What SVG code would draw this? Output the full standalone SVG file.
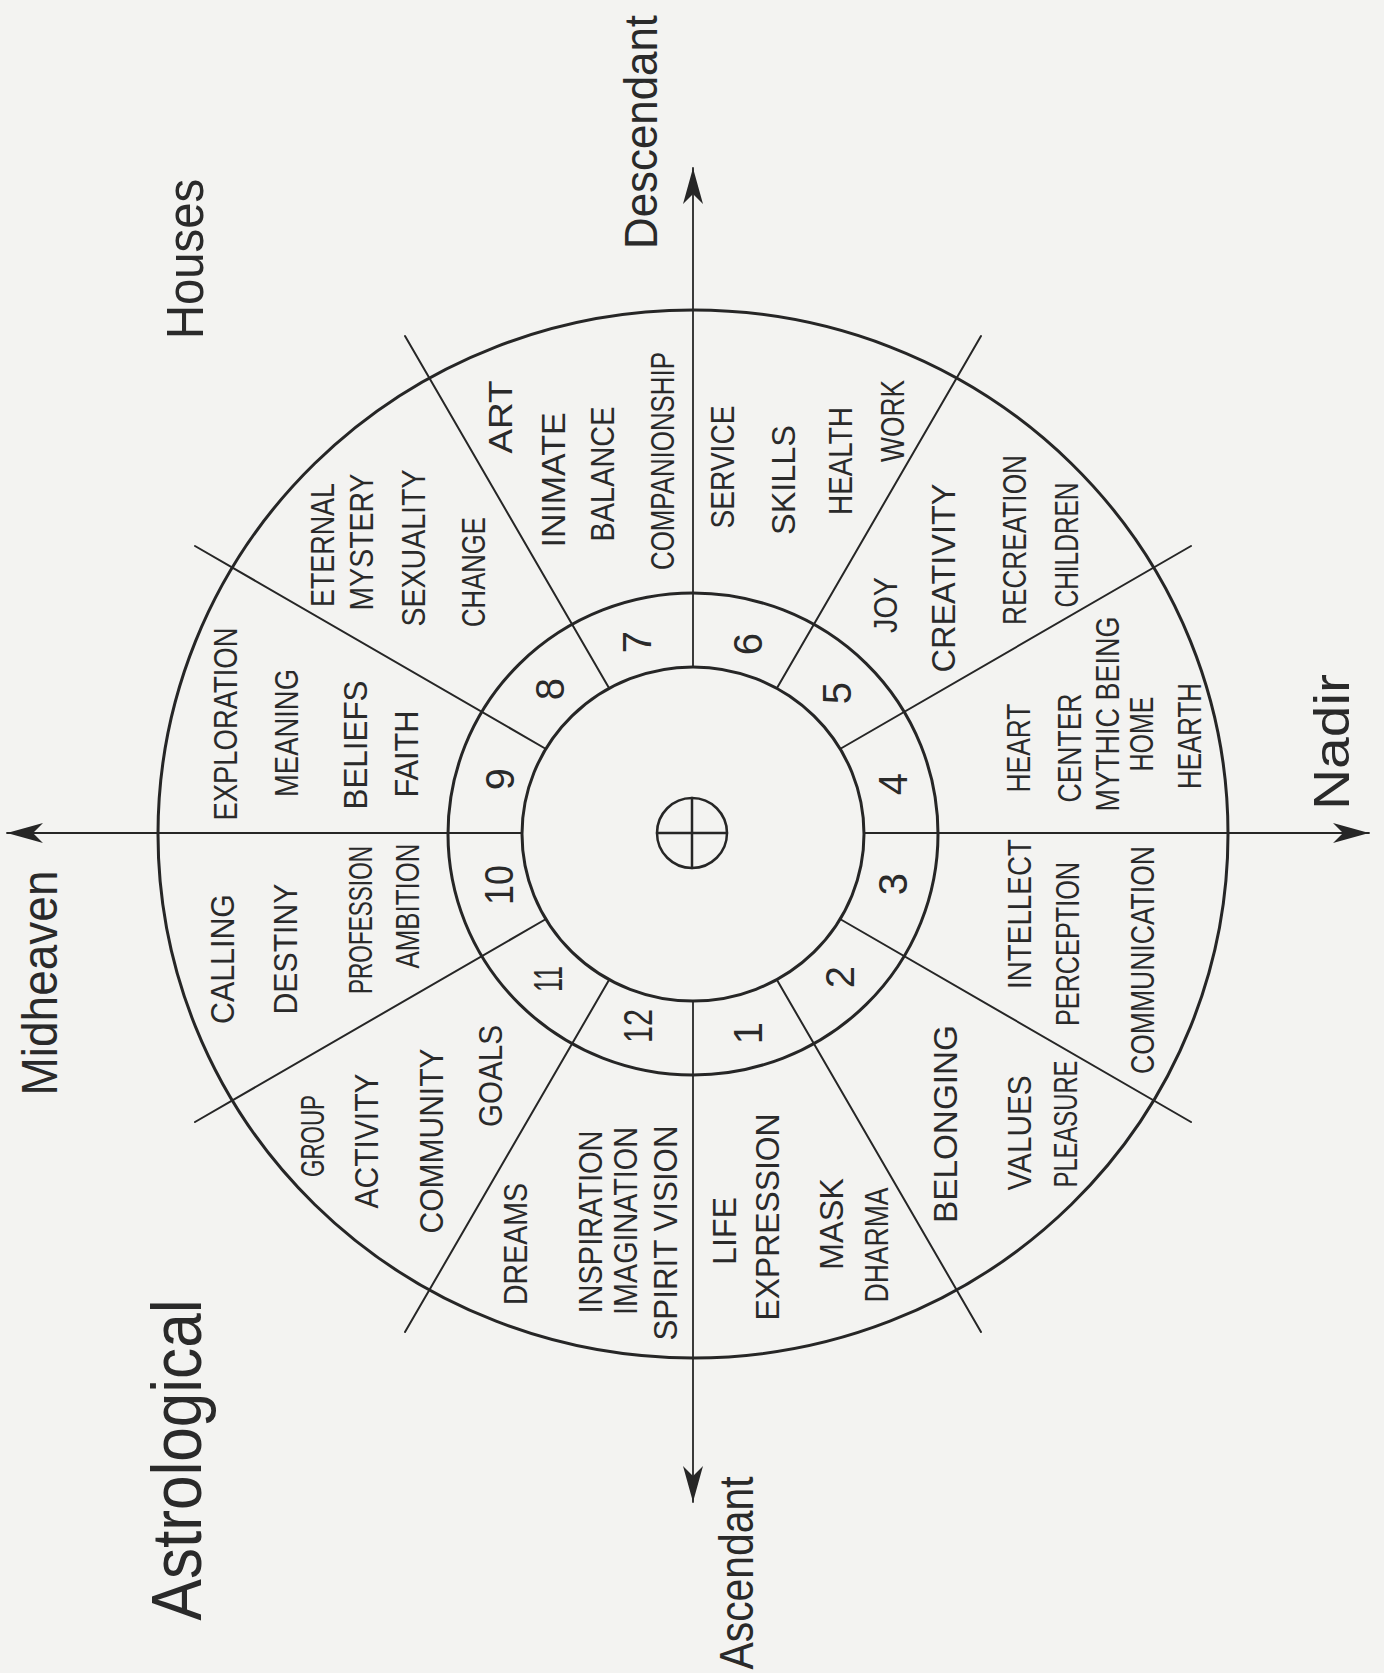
<svg xmlns="http://www.w3.org/2000/svg" width="1384" height="1673" viewBox="0 0 1384 1673">
<style>
.ln{stroke:#262626;fill:none;stroke-linecap:round}
.ring{stroke-width:3}
.div{stroke-width:2}
.axis{stroke-width:1.8}
.kw{font-family:"Liberation Sans",Arial,sans-serif;font-size:33px;fill:#2a2a2a;text-anchor:middle}
.num{font-family:"Liberation Sans",Arial,sans-serif;font-size:40px;fill:#2a2a2a;text-anchor:middle}
.ttl{font-family:"Liberation Sans",Arial,sans-serif;fill:#2a2a2a;text-anchor:middle}
</style>
<defs>
<marker id="arr" viewBox="-40 -12 42 24" markerWidth="42" markerHeight="24" refX="0" refY="0" orient="auto" markerUnits="userSpaceOnUse">
<path d="M0,0 L-36,-10 L-26,0 L-36,10 Z" fill="#262626"/>
</marker>
</defs>
<rect width="1384" height="1673" fill="#f3f3f1"/>

<g id="wheel">
<ellipse class="ln ring" cx="693" cy="834" rx="535" ry="524"/>
<ellipse class="ln ring" cx="693" cy="834" rx="245" ry="241"/>
<ellipse class="ln ring" cx="693" cy="834" rx="171" ry="167"/>
</g>

<g id="center-symbol">
<circle class="ln" stroke-width="2.5" cx="692" cy="833" r="35"/>
<line class="ln" stroke-width="2.5" x1="692" y1="798" x2="692" y2="868"/>
<line class="ln" stroke-width="2.5" x1="657" y1="833" x2="727" y2="833"/>
</g>

<g id="connectors">
<line class="ln div" x1="840" y1="749" x2="1191" y2="546"/>
<line class="ln div" x1="777" y1="688" x2="981" y2="336"/>
<line class="ln div" x1="609" y1="688" x2="405" y2="336"/>
<line class="ln div" x1="546" y1="749" x2="195" y2="546"/>
<line class="ln div" x1="840" y1="919" x2="1191" y2="1122"/>
<line class="ln div" x1="777" y1="980" x2="981" y2="1332"/>
<line class="ln div" x1="609" y1="980" x2="405" y2="1332"/>
<line class="ln div" x1="546" y1="919" x2="195" y2="1122"/>
<line class="ln axis" x1="522" y1="833" x2="7" y2="833" marker-end="url(#arr)"/>
<line class="ln axis" x1="864" y1="833" x2="1369" y2="833" marker-end="url(#arr)"/>
<line class="ln axis" x1="693" y1="667" x2="693" y2="168" marker-end="url(#arr)"/>
<line class="ln axis" x1="693" y1="1001" x2="693" y2="1502" marker-end="url(#arr)"/>
</g>

<g id="house-1">
<text class="num" transform="translate(762,1033) rotate(-90)">1</text>
<text class="kw" transform="translate(736,1231) rotate(-90)" textLength="68" lengthAdjust="spacingAndGlyphs">LIFE</text>
<text class="kw" transform="translate(779,1217) rotate(-90)" textLength="207" lengthAdjust="spacingAndGlyphs">EXPRESSION</text>
<text class="kw" transform="translate(843,1224) rotate(-90)" textLength="92" lengthAdjust="spacingAndGlyphs">MASK</text>
<text class="kw" transform="translate(888,1245) rotate(-90)" textLength="115" lengthAdjust="spacingAndGlyphs">DHARMA</text>
</g>
<g id="house-2">
<text class="num" transform="translate(854,977) rotate(-90)">2</text>
<text class="kw" transform="translate(957,1124) rotate(-90)" textLength="198" lengthAdjust="spacingAndGlyphs">BELONGING</text>
<text class="kw" transform="translate(1031,1133) rotate(-90)" textLength="115" lengthAdjust="spacingAndGlyphs">VALUES</text>
<text class="kw" transform="translate(1077,1124) rotate(-90)" textLength="127" lengthAdjust="spacingAndGlyphs">PLEASURE</text>
</g>
<g id="house-3">
<text class="num" transform="translate(907,884) rotate(-90)">3</text>
<text class="kw" transform="translate(1031,914) rotate(-90)" textLength="150" lengthAdjust="spacingAndGlyphs">INTELLECT</text>
<text class="kw" transform="translate(1079,944) rotate(-90)" textLength="164" lengthAdjust="spacingAndGlyphs">PERCEPTION</text>
<text class="kw" transform="translate(1154,960) rotate(-90)" textLength="228" lengthAdjust="spacingAndGlyphs">COMMUNICATION</text>
</g>
<g id="house-4">
<text class="num" transform="translate(907,784) rotate(-90)">4</text>
<text class="kw" transform="translate(1030,748) rotate(-90)" textLength="89" lengthAdjust="spacingAndGlyphs">HEART</text>
<text class="kw" transform="translate(1081,748) rotate(-90)" textLength="109" lengthAdjust="spacingAndGlyphs">CENTER</text>
<text class="kw" transform="translate(1119,714) rotate(-90)" textLength="195" lengthAdjust="spacingAndGlyphs">MYTHIC BEING</text>
<text class="kw" transform="translate(1153,734) rotate(-90)" textLength="75" lengthAdjust="spacingAndGlyphs">HOME</text>
<text class="kw" transform="translate(1201,736) rotate(-90)" textLength="106" lengthAdjust="spacingAndGlyphs">HEARTH</text>
</g>
<g id="house-5">
<text class="num" transform="translate(851,693) rotate(-90)">5</text>
<text class="kw" transform="translate(897,605) rotate(-90)" textLength="56" lengthAdjust="spacingAndGlyphs">JOY</text>
<text class="kw" transform="translate(955,578) rotate(-90)" textLength="189" lengthAdjust="spacingAndGlyphs">CREATIVITY</text>
<text class="kw" transform="translate(1026,540) rotate(-90)" textLength="170" lengthAdjust="spacingAndGlyphs">RECREATION</text>
<text class="kw" transform="translate(1078,545) rotate(-90)" textLength="125" lengthAdjust="spacingAndGlyphs">CHILDREN</text>
</g>
<g id="house-6">
<text class="num" transform="translate(762,644) rotate(-90)">6</text>
<text class="kw" transform="translate(734,467) rotate(-90)" textLength="123" lengthAdjust="spacingAndGlyphs">SERVICE</text>
<text class="kw" transform="translate(795,480) rotate(-90)" textLength="110" lengthAdjust="spacingAndGlyphs">SKILLS</text>
<text class="kw" transform="translate(852,461) rotate(-90)" textLength="108" lengthAdjust="spacingAndGlyphs">HEALTH</text>
<text class="kw" transform="translate(904,421) rotate(-90)" textLength="82" lengthAdjust="spacingAndGlyphs">WORK</text>
</g>
<g id="house-7">
<text class="num" transform="translate(651,642) rotate(-90)">7</text>
<text class="kw" transform="translate(512,417) rotate(-90)" textLength="73" lengthAdjust="spacingAndGlyphs">ART</text>
<text class="kw" transform="translate(565,480) rotate(-90)" textLength="135" lengthAdjust="spacingAndGlyphs">INIMATE</text>
<text class="kw" transform="translate(614,474) rotate(-90)" textLength="135" lengthAdjust="spacingAndGlyphs">BALANCE</text>
<text class="kw" transform="translate(674,461) rotate(-90)" textLength="218" lengthAdjust="spacingAndGlyphs">COMPANIONSHIP</text>
</g>
<g id="house-8">
<text class="num" transform="translate(564,689) rotate(-90)">8</text>
<text class="kw" transform="translate(334,545) rotate(-90)" textLength="124" lengthAdjust="spacingAndGlyphs">ETERNAL</text>
<text class="kw" transform="translate(373,542) rotate(-90)" textLength="137" lengthAdjust="spacingAndGlyphs">MYSTERY</text>
<text class="kw" transform="translate(425,548) rotate(-90)" textLength="157" lengthAdjust="spacingAndGlyphs">SEXUALITY</text>
<text class="kw" transform="translate(485,572) rotate(-90)" textLength="110" lengthAdjust="spacingAndGlyphs">CHANGE</text>
</g>
<g id="house-9">
<text class="num" transform="translate(514,779) rotate(-90)">9</text>
<text class="kw" transform="translate(237,724) rotate(-90)" textLength="193" lengthAdjust="spacingAndGlyphs">EXPLORATION</text>
<text class="kw" transform="translate(298,733) rotate(-90)" textLength="128" lengthAdjust="spacingAndGlyphs">MEANING</text>
<text class="kw" transform="translate(367,745) rotate(-90)" textLength="129" lengthAdjust="spacingAndGlyphs">BELIEFS</text>
<text class="kw" transform="translate(418,754) rotate(-90)" textLength="87" lengthAdjust="spacingAndGlyphs">FAITH</text>
</g>
<g id="house-10">
<text class="num" transform="translate(513,885) rotate(-90)" textLength="40" lengthAdjust="spacingAndGlyphs">10</text>
<text class="kw" transform="translate(234,959) rotate(-90)" textLength="130" lengthAdjust="spacingAndGlyphs">CALLING</text>
<text class="kw" transform="translate(297,949) rotate(-90)" textLength="131" lengthAdjust="spacingAndGlyphs">DESTINY</text>
<text class="kw" transform="translate(372,920) rotate(-90)" textLength="148" lengthAdjust="spacingAndGlyphs">PROFESSION</text>
<text class="kw" transform="translate(419,906) rotate(-90)" textLength="125" lengthAdjust="spacingAndGlyphs">AMBITION</text>
</g>
<g id="house-11">
<text class="num" transform="translate(562,979) rotate(-90)" textLength="26" lengthAdjust="spacingAndGlyphs">11</text>
<text class="kw" transform="translate(324,1136) rotate(-90)" textLength="82" lengthAdjust="spacingAndGlyphs">GROUP</text>
<text class="kw" transform="translate(378,1141) rotate(-90)" textLength="135" lengthAdjust="spacingAndGlyphs">ACTIVITY</text>
<text class="kw" transform="translate(443,1141) rotate(-90)" textLength="185" lengthAdjust="spacingAndGlyphs">COMMUNITY</text>
<text class="kw" transform="translate(502,1076) rotate(-90)" textLength="102" lengthAdjust="spacingAndGlyphs">GOALS</text>
</g>
<g id="house-12">
<text class="num" transform="translate(652,1026) rotate(-90)" textLength="34" lengthAdjust="spacingAndGlyphs">12</text>
<text class="kw" transform="translate(527,1244) rotate(-90)" textLength="122" lengthAdjust="spacingAndGlyphs">DREAMS</text>
<text class="kw" transform="translate(602,1222) rotate(-90)" textLength="183" lengthAdjust="spacingAndGlyphs">INSPIRATION</text>
<text class="kw" transform="translate(637,1221) rotate(-90)" textLength="188" lengthAdjust="spacingAndGlyphs">IMAGINATION</text>
<text class="kw" transform="translate(677,1233) rotate(-90)" textLength="215" lengthAdjust="spacingAndGlyphs">SPIRIT VISION</text>
</g>

<g id="titles">
<text class="ttl" font-size="70" transform="translate(201,1460) rotate(-90)" textLength="321" lengthAdjust="spacingAndGlyphs">Astrological</text>
<text class="ttl" font-size="52" transform="translate(203,259) rotate(-90)" textLength="160" lengthAdjust="spacingAndGlyphs">Houses</text>
</g>
<g id="label-midheaven"><text class="ttl" font-size="50" transform="translate(57,983) rotate(-90)" textLength="225" lengthAdjust="spacingAndGlyphs">Midheaven</text></g>
<g id="label-descendant"><text class="ttl" font-size="46" transform="translate(657,132) rotate(-90)" textLength="234" lengthAdjust="spacingAndGlyphs">Descendant</text></g>
<g id="label-nadir"><text class="ttl" font-size="50" transform="translate(1349,742) rotate(-90)" textLength="136" lengthAdjust="spacingAndGlyphs">Nadir</text></g>
<g id="label-ascendant"><text class="ttl" font-size="48" transform="translate(753,1573) rotate(-90)" textLength="193" lengthAdjust="spacingAndGlyphs">Ascendant</text></g>
</svg>
